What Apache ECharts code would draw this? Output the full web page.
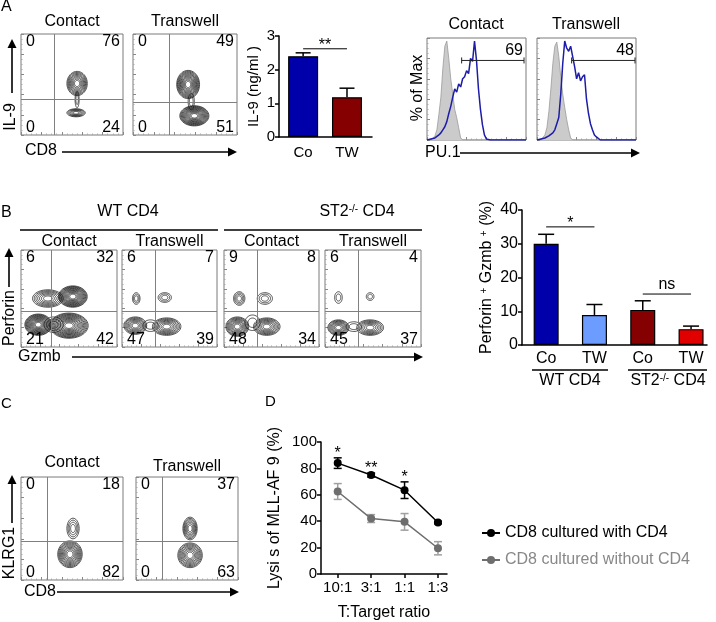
<!DOCTYPE html>
<html>
<head>
<meta charset="UTF-8">
<title>figure</title>
<script src="https://cdn.jsdelivr.net/npm/echarts@6/dist/echarts.min.js"></script>
<style>
  html, body { margin: 0; padding: 0; background: #fff; }
  #main { width: 716px; height: 622px; }
</style>
</head>
<body>
<div id="main"></div>
<script>
var FONT = '"Liberation Sans", Arial, Helvetica, sans-serif';

// ---------------- A : IL-9 / CD8 contour plots ----------------
var aFlowTitles = ['Contact', 'Transwell'];
var aFlowQuads = [[0, 76, 0, 24], [0, 49, 0, 51]];          // UL, UR, LL, LR
var aFlowGates = [[33, 35], [35, 32]];                      // x gate, y gate
// populations: [cx, cy, rx, ry, rings]
var aFlowBlobs = [
  [[55, 51, 10, 12, 9], [54, 22, 9, 4, 6], [55, 35, 2, 8, 2]],
  [[53, 50, 11, 14, 12], [59, 19, 14, 10, 13], [56, 33, 3, 8, 2]]
];

// ---------------- A : IL-9 ELISA bars ----------------
var aBarCats = ['Co', 'TW'];
var aBarVals = [2.4, 1.18];
var aBarErr = [0.1, 0.27];
var aBarColors = ['#0000aa', '#850000'];
var aBarSig = [[0, 1, 2.62]];
var aBarSigText = ['**'];

// ---------------- A : PU.1 histograms (bins every 2 units) ----------------
var histTitles = ['Contact', 'Transwell'];
var histGates = [[35, 98, 0.78], [35, 99, 0.78]];
var histGateText = ['69', '48'];
var histIso1 = [0, 0, 0, 0.01, 0.04, 0.1, 0.25, 0.42, 0.7, 0.92, 0.97, 0.8, 0.6, 0.45, 0.3, 0.22, 0.12, 0.02,
  0, 0, 0, 0, 0, 0, 0, 0, 0, 0, 0, 0, 0, 0, 0, 0, 0, 0, 0, 0, 0, 0, 0, 0, 0, 0, 0, 0, 0, 0, 0, 0, 0];
var histPu1 = [0, 0, 0.01, 0.01, 0.02, 0.03, 0.05, 0.07, 0.1, 0.13, 0.18, 0.26, 0.33, 0.42, 0.5, 0.47, 0.55,
  0.52, 0.6, 0.62, 0.68, 0.65, 0.8, 0.77, 0.97, 0.78, 0.5, 0.3, 0.15, 0.05, 0.01,
  0, 0, 0, 0, 0, 0, 0, 0, 0, 0, 0, 0, 0, 0, 0, 0, 0, 0, 0, 0];
var histIso2 = [0, 0, 0, 0.01, 0.05, 0.12, 0.28, 0.5, 0.75, 0.92, 0.96, 0.82, 0.62, 0.45, 0.32, 0.2, 0.1, 0.02,
  0, 0, 0, 0, 0, 0, 0, 0, 0, 0, 0, 0, 0, 0, 0, 0, 0, 0, 0, 0, 0, 0, 0, 0, 0, 0, 0, 0, 0, 0, 0, 0, 0];
var histPu2 = [0, 0.01, 0.01, 0.02, 0.02, 0.03, 0.04, 0.05, 0.07, 0.1, 0.16, 0.22, 0.45, 0.75, 0.97, 0.9,
  0.87, 0.92, 0.82, 0.72, 0.6, 0.66, 0.58, 0.62, 0.64, 0.4, 0.26, 0.16, 0.1, 0.05, 0.03, 0.02,
  0, 0, 0, 0, 0, 0, 0, 0, 0, 0, 0, 0, 0, 0, 0, 0, 0, 0, 0];

// ---------------- B : Perforin / Gzmb contour plots ----------------
var bFlowTitles = ['Contact', 'Transwell', 'Contact', 'Transwell'];
var bFlowQuads = [[6, 32, 21, 42], [6, 7, 47, 39], [9, 8, 48, 34], [6, 4, 45, 37]];
var bFlowGates = [[31, 37], [35, 37], [35, 37], [35, 37]];
var bFlowBlobs = [
  [[28, 50, 16, 9, 7], [54, 52, 15, 11, 13], [18, 23, 14, 11, 13], [50, 22, 20, 13, 13], [34, 23, 10, 8, 3]],
  [[15, 50, 4, 6, 3], [45, 51, 7, 5, 3], [14, 22, 12, 9, 8], [47, 21, 15, 9, 8], [30, 22, 8, 6, 2]],
  [[16, 50, 6, 7, 4], [43, 50, 8, 6, 3], [14, 21, 12, 10, 9], [45, 21, 14, 9, 8], [30, 25, 8, 8, 2]],
  [[14, 51, 4, 6, 2], [47, 52, 4, 4, 2], [14, 20, 11, 8, 8], [47, 20, 14, 8, 7], [30, 21, 8, 5, 2]]
];

// ---------------- B : Perforin+ Gzmb+ bars ----------------
var bBarCats = ['Co', 'TW', 'Co', 'TW'];
var bBarVals = [30, 8.9, 10.4, 4.7];
var bBarErr = [2.8, 3.1, 2.7, 0.9];
var bBarColors = ['#0000aa', '#6c9cff', '#850000', '#e00000'];
var bBarSig = [[0, 1, 35], [2, 3, 15.1]];
var bBarSigText = ['*', 'ns'];

// ---------------- C : KLRG1 / CD8 contour plots ----------------
var cFlowTitles = ['Contact', 'Transwell'];
var cFlowQuads = [[0, 18, 0, 82], [0, 37, 0, 63]];
var cFlowGates = [[26, 38], [26, 38]];
var cFlowBlobs = [
  [[51, 50, 6, 10, 4], [48, 25, 12, 13, 10]],
  [[53, 50, 7, 11, 7], [53, 24, 12, 12, 9]]
];

// ---------------- D : lysis ----------------
var dCats = ['10:1', '3:1', '1:1', '1:3'];
var dWith = [84, 75, 63.5, 39];
var dWithErr = [4, 1.5, 6.3, 1];
var dWithout = [62.5, 42, 39.5, 19.5];
var dWithoutErr = [6, 3, 6.3, 5];
var dSig = ['*', '**', '*', ''];
var dNames = ['CD8 cultured with CD4', 'CD8 cultured without CD4'];

// ==================================================================
var grids = [], xAxes = [], yAxes = [], series = [], gfx = [];

function addPanel(rect, xCfg, yCfg, gridExtra) {
  var i = grids.length;
  grids.push(Object.assign({left: rect[0], top: rect[1], width: rect[2], height: rect[3]}, gridExtra || {}));
  xAxes.push(Object.assign({gridIndex: i}, xCfg));
  yAxes.push(Object.assign({gridIndex: i}, yCfg));
  return i;
}

function flowAxis(max) {
  return {
    type: 'value', min: 0, max: max, splitNumber: 5,
    axisLine: {show: false, onZero: false}, axisLabel: {show: false}, splitLine: {show: false},
    axisTick: {show: true, inside: true, length: 3, lineStyle: {color: '#888'}},
    minorTick: {show: true, splitNumber: 4, length: 1.5, lineStyle: {color: '#aaa'}}
  };
}

function barAxis(extra) {
  return Object.assign({
    type: 'value', splitLine: {show: false},
    axisLine: {show: true, onZero: false, lineStyle: {color: '#000', width: 1.5}},
    axisTick: {show: true, length: 4, lineStyle: {color: '#000', width: 1.5}},
    axisLabel: {color: '#000', fontSize: 15, fontFamily: FONT}
  }, extra);
}

function txt(x, y, text, size, align, rot, color) {
  return {
    type: 'text', x: x, y: y, rotation: rot || 0,
    style: {text: text, font: size + 'px ' + FONT, fill: color || '#000',
      align: align || 'center', verticalAlign: 'middle'}
  };
}

function arrow(x1, y1, x2, y2) {
  var ang = Math.atan2(y2 - y1, x2 - x1), L = 9, W = 4.5;
  var bx = x2 - L * Math.cos(ang), by = y2 - L * Math.sin(ang);
  var nx = -Math.sin(ang) * W, ny = Math.cos(ang) * W;
  gfx.push({type: 'line', shape: {x1: x1, y1: y1, x2: bx, y2: by}, style: {stroke: '#000', lineWidth: 1.6}});
  gfx.push({type: 'polygon', shape: {points: [[x2, y2], [bx + nx, by + ny], [bx - nx, by - ny]]}, style: {fill: '#000'}});
}

function hline(x1, x2, y, w) {
  gfx.push({type: 'line', shape: {x1: x1, y1: y, x2: x2, y2: y}, style: {stroke: '#000', lineWidth: w || 1.5}});
}

// nested rings around each population
function renderContour(params, api) {
  var c = api.coord([api.value(0), api.value(1)]);
  var r = api.size([api.value(2), api.value(3)]);
  var n = api.value(4), rings = [];
  for (var k = 1; k <= n; k++) {
    var s = 0.12 + 0.88 * Math.pow(k / n, 0.85), pts = [];
    for (var t = 0; t < 40; t++) {
      var a = t / 40 * Math.PI * 2;
      pts.push([c[0] + Math.cos(a) * Math.abs(r[0]) * s, c[1] + Math.sin(a) * Math.abs(r[1]) * s]);
    }
    rings.push({type: 'polygon', shape: {points: pts}, style: {fill: 'none', stroke: '#1e1e1e', lineWidth: 0.75}});
  }
  return {type: 'group', children: rings};
}

function renderQuad(params, api) {
  var corner = api.value(0);
  var right = corner % 2 === 1, bottom = corner >= 2;
  var p = api.coord([right ? 100 : 0, bottom ? 0 : 100]);
  return {
    type: 'text', x: p[0] + (right ? -3 : 5), y: p[1] + (bottom ? 1 : 0),
    style: {text: String(api.value(1)), font: '16px ' + FONT, fill: '#000',
      align: right ? 'right' : 'left', verticalAlign: bottom ? 'bottom' : 'top'}
  };
}

function flowPlot(rect, title, titleY, quads, gate, blobs) {
  var i = addPanel(rect, flowAxis(100), flowAxis(100),
    {show: true, borderColor: '#7a7a7a', borderWidth: 1, backgroundColor: 'transparent'});
  series.push({
    type: 'custom', xAxisIndex: i, yAxisIndex: i, data: blobs, renderItem: renderContour,
    clip: true, silent: true, z: 3,
    markLine: {
      silent: true, symbol: 'none', label: {show: false}, animation: false,
      lineStyle: {color: '#808080', width: 1, type: 'solid'},
      data: [{xAxis: gate[0]}, {yAxis: gate[1]}]
    }
  });
  series.push({
    type: 'custom', xAxisIndex: i, yAxisIndex: i, silent: true, z: 5,
    data: quads.map(function (v, k) { return [k, v]; }), renderItem: renderQuad
  });
  gfx.push(txt(rect[0] + rect[2] / 2, titleY, title, 16));
}

function errRenderer(cap, color, both) {
  return function (params, api) {
    var x = api.value(0), v = api.value(1), e = api.value(2);
    var lo = api.coord([x, both ? v - e : v]), hi = api.coord([x, v + e]);
    var st = {stroke: color, lineWidth: 1.5};
    var ch = [
      {type: 'line', shape: {x1: lo[0], y1: lo[1], x2: hi[0], y2: hi[1]}, style: st},
      {type: 'line', shape: {x1: hi[0] - cap / 2, y1: hi[1], x2: hi[0] + cap / 2, y2: hi[1]}, style: st}
    ];
    if (both) ch.push({type: 'line', shape: {x1: lo[0] - cap / 2, y1: lo[1], x2: lo[0] + cap / 2, y2: lo[1]}, style: st});
    return {type: 'group', children: ch};
  };
}

function sigRenderer(texts) {
  return function (params, api) {
    var a = api.coord([api.value(0), api.value(2)]), b = api.coord([api.value(1), api.value(2)]);
    var t = texts[params.dataIndex];
    return {type: 'group', children: [
      {type: 'line', shape: {x1: a[0], y1: a[1], x2: b[0], y2: b[1]}, style: {stroke: '#000', lineWidth: 1}},
      {type: 'text', x: (a[0] + b[0]) / 2, y: a[1] + (t === 'ns' ? -9 : -3),
        style: {text: t, font: '16px ' + FONT, fill: '#000', align: 'center', verticalAlign: 'middle'}}
    ]};
  };
}

// ---------- panel A ----------
gfx.push(txt(1, 7, 'A', 16, 'left'));
flowPlot([21, 34, 102, 101], aFlowTitles[0], 22, aFlowQuads[0], aFlowGates[0], aFlowBlobs[0]);
flowPlot([133, 34, 104, 101], aFlowTitles[1], 22, aFlowQuads[1], aFlowGates[1], aFlowBlobs[1]);
gfx.push(txt(11, 117, 'IL-9', 16, 'center', Math.PI / 2));
arrow(12, 93, 12, 39);
gfx.push(txt(25, 151, 'CD8', 16, 'left'));
arrow(62, 152, 237, 152);

var iA = addPanel([279, 36, 93, 101],
  barAxis({min: -0.55, max: 1.57, axisTick: {show: false},
    axisLabel: {color: '#000', fontSize: 15, fontFamily: FONT, margin: 8, customValues: [0, 1],
      formatter: function (v) { return aBarCats[Math.round(v)]; }}}),
  barAxis({min: 0, max: 3, interval: 1, name: 'IL-9 (ng/ml )', nameLocation: 'middle', nameGap: 18,
    nameRotate: 90, nameTextStyle: {color: '#000', fontSize: 15, fontFamily: FONT},
    axisLabel: {color: '#000', fontSize: 15, fontFamily: FONT, margin: 4}}));
series.push({
  type: 'bar', xAxisIndex: iA, yAxisIndex: iA, barWidth: 30, z: 2,
  data: aBarVals.map(function (v, k) {
    return {value: [k, v], itemStyle: {color: aBarColors[k], borderColor: '#000', borderWidth: 1.2}};
  })
});
series.push({type: 'custom', xAxisIndex: iA, yAxisIndex: iA, z: 1, renderItem: errRenderer(15, '#000', false),
  data: aBarVals.map(function (v, k) { return [k, v, aBarErr[k]]; })});
series.push({type: 'custom', xAxisIndex: iA, yAxisIndex: iA, z: 4, renderItem: sigRenderer(aBarSigText), data: aBarSig});

// histograms
[[427, histIso1, histPu1], [537, histIso2, histPu2]].forEach(function (h, k) {
  var i = addPanel([h[0], 38, 99, 102], flowAxis(100), flowAxis(1),
    {show: true, borderColor: '#7a7a7a', borderWidth: 1, backgroundColor: 'transparent'});
  series.push({type: 'line', xAxisIndex: i, yAxisIndex: i, showSymbol: false, silent: true, z: 2,
    lineStyle: {color: '#9a9a9a', width: 0.8}, areaStyle: {color: '#cbcbcb', opacity: 1},
    data: h[1].map(function (v, j) { return [j * 2, v]; })});
  series.push({type: 'line', xAxisIndex: i, yAxisIndex: i, showSymbol: false, silent: true, z: 3,
    lineStyle: {color: '#1c1ca8', width: 1.5},
    data: h[2].map(function (v, j) { return [j * 2, v]; })});
  series.push({type: 'custom', xAxisIndex: i, yAxisIndex: i, z: 4, silent: true, data: [histGates[k]],
    renderItem: function (params, api) {
      var a = api.coord([api.value(0), api.value(2)]), b = api.coord([api.value(1), api.value(2)]);
      var st = {stroke: '#222', lineWidth: 1};
      return {type: 'group', children: [
        {type: 'line', shape: {x1: a[0], y1: a[1], x2: b[0], y2: b[1]}, style: st},
        {type: 'line', shape: {x1: a[0], y1: a[1] - 3, x2: a[0], y2: a[1] + 3}, style: st},
        {type: 'line', shape: {x1: b[0], y1: b[1] - 3, x2: b[0], y2: b[1] + 3}, style: st},
        {type: 'text', x: b[0] - 1, y: b[1] - 2, style: {text: histGateText[k], font: '16px ' + FONT,
          fill: '#000', align: 'right', verticalAlign: 'bottom'}}
      ]};
    }});
  gfx.push(txt(h[0] + 49, 25, histTitles[k], 16));
});
gfx.push(txt(418, 88, '% of Max', 16, 'center', Math.PI / 2));
gfx.push(txt(425, 153, 'PU.1', 16, 'left'));
arrow(460, 153, 640, 153);

// ---------- panel B ----------
gfx.push(txt(1, 213, 'B', 16, 'left'));
gfx.push(txt(128, 212, 'WT CD4', 16));
gfx.push({type: 'text', x: 357, y: 212, style: {
  text: '{a|ST2}{b|-/-}{a| CD4}', align: 'center', verticalAlign: 'middle',
  rich: {a: {fontSize: 16, fontFamily: FONT, fill: '#000'},
    b: {fontSize: 10, fontFamily: FONT, fill: '#000', verticalAlign: 'top'}}}});
hline(20, 218, 230, 1.5);
hline(224, 422, 230, 1.5);
var bRects = [[21, 250, 96, 97], [122, 250, 95, 97], [224, 250, 95, 97], [325, 250, 96, 97]];
bRects.forEach(function (r, k) {
  flowPlot(r, bFlowTitles[k], 242, bFlowQuads[k], bFlowGates[k], bFlowBlobs[k]);
});
gfx.push(txt(10, 318, 'Perforin', 16, 'center', Math.PI / 2));
arrow(9, 287, 9, 248);
gfx.push(txt(18, 357, 'Gzmb', 16, 'left'));
arrow(72, 357, 423, 357);

var iB = addPanel([522, 210, 185, 135],
  barAxis({min: -0.5, max: 3.33, axisTick: {show: false},
    axisLabel: {color: '#000', fontSize: 16, fontFamily: FONT, margin: 6, customValues: [0, 1, 2, 3],
      formatter: function (v) { return bBarCats[Math.round(v)]; }}}),
  barAxis({min: 0, max: 40, interval: 10, name: 'Perforin {s|+} Gzmb {s|+} (%)', nameLocation: 'middle',
    nameGap: 27, nameRotate: 90,
    nameTextStyle: {color: '#000', fontSize: 16, fontFamily: FONT,
      rich: {s: {fontSize: 10, fontFamily: FONT, color: '#000', verticalAlign: 'top'}}},
    axisLabel: {color: '#000', fontSize: 16, fontFamily: FONT, margin: 4}}));
series.push({
  type: 'bar', xAxisIndex: iB, yAxisIndex: iB, barWidth: 25, z: 2,
  data: bBarVals.map(function (v, k) {
    return {value: [k, v], itemStyle: {color: bBarColors[k], borderColor: '#000', borderWidth: 1.2}};
  })
});
series.push({type: 'custom', xAxisIndex: iB, yAxisIndex: iB, z: 1, renderItem: errRenderer(16, '#000', false),
  data: bBarVals.map(function (v, k) { return [k, v, bBarErr[k]]; })});
series.push({type: 'custom', xAxisIndex: iB, yAxisIndex: iB, z: 4, renderItem: sigRenderer(bBarSigText), data: bBarSig});
hline(532, 608, 370, 1.5);
hline(628, 707, 370, 1.5);
gfx.push(txt(570, 381, 'WT CD4', 16));
gfx.push({type: 'text', x: 668, y: 381, style: {
  text: '{a|ST2}{b|-/-}{a| CD4}', align: 'center', verticalAlign: 'middle',
  rich: {a: {fontSize: 16, fontFamily: FONT, fill: '#000'},
    b: {fontSize: 10, fontFamily: FONT, fill: '#000', verticalAlign: 'top'}}}});

// ---------- panel C ----------
gfx.push(txt(1, 404, 'C', 15, 'left'));
flowPlot([21, 477, 102, 103], cFlowTitles[0], 463, cFlowQuads[0], cFlowGates[0], cFlowBlobs[0]);
flowPlot([136, 477, 102, 103], cFlowTitles[1], 467, cFlowQuads[1], cFlowGates[1], cFlowBlobs[1]);
gfx.push(txt(10, 553, 'KLRG1', 16, 'center', Math.PI / 2));
arrow(12, 523, 12, 475);
gfx.push(txt(24, 592, 'CD8', 16, 'left'));
arrow(57, 592, 239, 592);

// ---------- panel D ----------
gfx.push(txt(265, 402, 'D', 15, 'left'));
var iD = addPanel([321, 442, 126, 132],
  barAxis({min: -0.5, max: 3.27, name: 'T:Target ratio', nameLocation: 'middle', nameGap: 31,
    nameTextStyle: {color: '#000', fontSize: 16, fontFamily: FONT},
    axisTick: {show: true, length: 4, customValues: [0, 1, 2, 3], lineStyle: {color: '#000', width: 1.5}},
    axisLabel: {color: '#000', fontSize: 15, fontFamily: FONT, margin: 6, customValues: [0, 1, 2, 3],
      formatter: function (v) { return dCats[Math.round(v)]; }}}),
  barAxis({min: 0, max: 100, interval: 20, name: 'Lysi s of MLL-AF 9 (%)', nameLocation: 'middle',
    nameGap: 38, nameRotate: 90, nameTextStyle: {color: '#000', fontSize: 16, fontFamily: FONT},
    axisLabel: {color: '#000', fontSize: 15, fontFamily: FONT, margin: 4}}));
[[dWith, dWithErr, '#000', '#000'], [dWithout, dWithoutErr, '#6e6e6e', '#a0a0a0']].forEach(function (s, k) {
  series.push({type: 'line', name: dNames[k], xAxisIndex: iD, yAxisIndex: iD, symbol: 'circle', symbolSize: 8,
    z: 4, itemStyle: {color: s[2]}, lineStyle: {color: s[2], width: 1.5},
    data: s[0].map(function (v, j) { return [j, v]; })});
  series.push({type: 'custom', xAxisIndex: iD, yAxisIndex: iD, z: 3, silent: true,
    renderItem: errRenderer(8, s[3], true),
    data: s[0].map(function (v, j) { return [j, v, s[1][j]]; })});
});
series.push({type: 'custom', xAxisIndex: iD, yAxisIndex: iD, z: 5, silent: true,
  data: dWith.map(function (v, j) { return [j, v + dWithErr[j]]; }),
  renderItem: function (params, api) {
    var p = api.coord([api.value(0), api.value(1)]);
    return {type: 'text', x: p[0], y: p[1] - 4, style: {text: dSig[params.dataIndex],
      font: '16px ' + FONT, fill: '#000', align: 'center', verticalAlign: 'middle'}};
  }});

var option = {
  animation: false,
  backgroundColor: '#fff',
  textStyle: {fontFamily: FONT},
  grid: grids, xAxis: xAxes, yAxis: yAxes, series: series,
  legend: {
    orient: 'vertical', left: 476, top: 519, itemWidth: 18, itemHeight: 10, itemGap: 9,
    selectedMode: false,
    textStyle: {fontSize: 16, fontFamily: FONT, lineHeight: 18},
    data: [{name: dNames[0], textStyle: {color: '#000'}}, {name: dNames[1], textStyle: {color: '#888'}}]
  },
  graphic: {elements: gfx}
};

var chart = echarts.init(document.getElementById('main'));
chart.setOption(option);
</script>
</body>
</html>
